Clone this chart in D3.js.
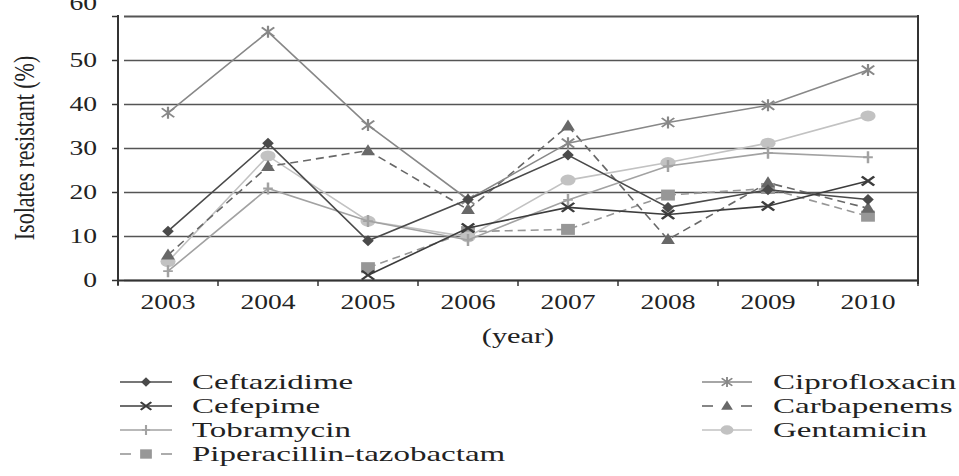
<!DOCTYPE html>
<html>
<head>
<meta charset="utf-8">
<script src="https://cdn.jsdelivr.net/npm/d3@7"></script>
<style>
  body { margin: 0; background: #fff; }
  svg text { font-family: "Liberation Serif", "Times New Roman", serif; fill: #222; }
</style>
</head>
<body>
<div id="chart"></div>
<script>
// data
const years = ["2003", "2004", "2005", "2006", "2007", "2008", "2009", "2010"];
const yTicks = [0, 10, 20, 30, 40, 50, 60];

const ceftazidime = [11.1, 31.1, 8.9, 18.3, 28.4, 16.5, 20.5, 18.3];
const cefepime = [null, null, 1.1, 11.8, 16.5, 14.9, 16.8, 22.5];
const tobramycin = [2.0, 20.8, 13.4, 9.1, 18.2, 25.9, 28.9, 27.9];
const piperacillin = [null, null, 2.8, 11.0, 11.5, 19.3, 20.8, 14.5];
const ciprofloxacin = [38.0, 56.4, 35.2, 18.3, 31.1, 35.8, 39.7, 47.7];
const carbapenems = [5.7, 25.8, 29.4, 16.0, 35.0, 9.2, 22.1, 16.3];
const gentamicin = [4.2, 28.2, 13.4, 9.8, 22.7, 26.7, 31.1, 37.3];

// the source figure is stretched sideways, so text and markers get this x scale
const SX = 1.38;
const LEGEND_SX = 1.5;

const series = [
  { name: "Ceftazidime", values: ceftazidime, color: "#4a4a4a", shape: "diamond", dashed: false, col: 0, row: 0 },
  { name: "Cefepime", values: cefepime, color: "#3c3c3c", shape: "x", dashed: false, col: 0, row: 1 },
  { name: "Tobramycin", values: tobramycin, color: "#a2a2a2", shape: "plus", dashed: false, col: 0, row: 2 },
  { name: "Piperacillin-tazobactam", values: piperacillin, color: "#979797", shape: "square", dashed: true, col: 0, row: 3 },
  { name: "Ciprofloxacin", values: ciprofloxacin, color: "#888888", shape: "star", dashed: false, col: 1, row: 0 },
  { name: "Carbapenems", values: carbapenems, color: "#686868", shape: "triangle", dashed: true, col: 1, row: 1 },
  { name: "Gentamicin", values: gentamicin, color: "#c2c2c2", shape: "circle", dashed: false, col: 1, row: 2 }
];
const drawOrder = ["Piperacillin-tazobactam", "Gentamicin", "Tobramycin", "Carbapenems", "Ciprofloxacin", "Ceftazidime", "Cefepime"];

const width = 959, height = 476;
const margin = { top: 16, right: 41, bottom: 196, left: 118 };

const svg = d3.select("#chart").append("svg")
  .attr("width", width)
  .attr("height", height);

const x = d3.scaleBand().domain(years).range([margin.left, width - margin.right]);
const y = d3.scaleLinear().domain([0, 60]).range([height - margin.bottom, margin.top]);
const cx = d => x(d) + x.bandwidth() / 2;

// gridlines
svg.append("g")
  .attr("transform", `translate(${margin.left},0)`)
  .call(d3.axisLeft(y).tickValues(yTicks).tickSize(-(width - margin.left - margin.right)).tickFormat(""))
  .call(g => g.select(".domain").remove())
  .call(g => g.selectAll("line")
    .attr("x1", 6)
    .attr("stroke", "#555")
    .attr("stroke-width", d => d === 60 ? 2 : 1.6));

// y axis
svg.append("g")
  .attr("transform", `translate(${margin.left},0)`)
  .call(d3.axisLeft(y).tickValues(yTicks).tickSize(6).tickSizeOuter(0).tickPadding(15))
  .call(g => g.select(".domain").attr("stroke", "#333").attr("stroke-width", 2)
    .attr("d", `M0,${y(60) - 1}V${y(0) + 5}`))
  .call(g => g.selectAll(".tick line").attr("stroke", "#333").attr("stroke-width", 1.5))
  .call(g => g.selectAll(".tick text")
    .attr("x", -21 / SX)
    .attr("transform", `scale(${SX},1)`)
    .attr("dy", d => d === 60 ? "-0.35em" : "0.32em")
    .style("font-size", "20px")
    .style("font-family", "Liberation Serif")
    .attr("fill", "#222"));

// right border
svg.append("line")
  .attr("x1", width - margin.right).attr("x2", width - margin.right)
  .attr("y1", y(60) - 1).attr("y2", y(0) + 4)
  .attr("stroke", "#333").attr("stroke-width", 2);

// x axis
const xAxis = svg.append("g")
  .attr("transform", `translate(0,${y(0)})`)
  .call(d3.axisBottom(x).tickSize(0).tickSizeOuter(0).tickPadding(15))
  .call(g => g.select(".domain").attr("stroke", "#333").attr("stroke-width", 2))
  .call(g => g.selectAll(".tick text")
    .attr("transform", `scale(${SX},1)`)
    .style("font-size", "20px")
    .style("font-family", "Liberation Serif")
    .attr("fill", "#222"));

xAxis.selectAll(".sep")
  .data(d3.range(years.length + 1))
  .join("line")
  .attr("class", "sep")
  .attr("x1", i => margin.left + i * x.bandwidth())
  .attr("x2", i => margin.left + i * x.bandwidth())
  .attr("y1", 0).attr("y2", 6)
  .attr("stroke", "#333").attr("stroke-width", 1.5);

// axis titles
svg.append("text")
  .attr("transform", `translate(34,148) scale(${SX},1) rotate(-90)`)
  .attr("text-anchor", "middle")
  .style("font-size", "22px")
  .text("Isolates resistant (%)");

svg.append("text")
  .attr("transform", `translate(${(margin.left + width - margin.right) / 2},343) scale(${SX},1)`)
  .attr("text-anchor", "middle")
  .style("font-size", "22px")
  .text("(year)");

function marker(sel, s) {
  sel.attr("fill", s.color).attr("stroke", s.color);
  if (s.shape === "diamond") {
    sel.append("path").attr("d", "M0,-5.5L4.2,0L0,5.5L-4.2,0Z").attr("stroke", "none");
  } else if (s.shape === "x") {
    sel.append("path").attr("d", "M-4.5,-4.5L4.5,4.5M-4.5,4.5L4.5,-4.5").attr("fill", "none").attr("stroke-width", 2);
  } else if (s.shape === "plus") {
    sel.append("path").attr("d", "M-3.5,0L3.5,0M0,-6L0,6").attr("fill", "none").attr("stroke-width", 1.8);
  } else if (s.shape === "square") {
    sel.append("rect").attr("x", -5).attr("y", -5.5).attr("width", 10).attr("height", 11).attr("stroke", "none");
  } else if (s.shape === "star") {
    sel.append("path").attr("d", "M-4.5,-4.5L4.5,4.5M-4.5,4.5L4.5,-4.5M0,-6L0,6").attr("fill", "none").attr("stroke-width", 1.6);
  } else if (s.shape === "triangle") {
    sel.append("path").attr("d", "M0,-6.5L5,4.5L-5,4.5Z").attr("stroke", "none");
  } else if (s.shape === "circle") {
    sel.append("circle").attr("r", 5.5).attr("stroke", "none");
  }
}

const line = d3.line()
  .defined(d => d.v !== null)
  .x(d => cx(d.year))
  .y(d => y(d.v));

drawOrder.forEach(name => {
  const s = series.find(d => d.name === name);
  const pts = years.map((yr, i) => ({ year: yr, v: s.values[i] }));
  const g = svg.append("g");
  g.append("path")
    .datum(pts)
    .attr("d", line)
    .attr("fill", "none")
    .attr("stroke", s.color)
    .attr("stroke-width", 1.6)
    .attr("stroke-dasharray", s.dashed ? "8,5" : null);
  g.selectAll(".m")
    .data(pts.filter(d => d.v !== null))
    .join("g")
    .attr("class", "m")
    .attr("transform", d => `translate(${cx(d.year)},${y(d.v)}) scale(${SX},1)`)
    .each(function () { marker(d3.select(this), s); });
});

// legend
const legendCols = [{ x0: 120, x1: 172, tx: 192 }, { x0: 702, x1: 752, tx: 773 }];
const legendTop = 382, legendStep = 24;

series.forEach(s => {
  const c = legendCols[s.col];
  const ly = legendTop + s.row * legendStep;
  const g = svg.append("g");
  const mid = (c.x0 + c.x1) / 2;
  if (s.dashed) {
    g.append("line").attr("x1", c.x0).attr("x2", c.x0 + 11).attr("y1", ly).attr("y2", ly)
      .attr("stroke", s.color).attr("stroke-width", 1.6);
    g.append("line").attr("x1", c.x1 - 11).attr("x2", c.x1).attr("y1", ly).attr("y2", ly)
      .attr("stroke", s.color).attr("stroke-width", 1.6);
  } else {
    g.append("line").attr("x1", c.x0).attr("x2", c.x1).attr("y1", ly).attr("y2", ly)
      .attr("stroke", s.color).attr("stroke-width", 1.6);
  }
  const m = g.append("g").attr("transform", `translate(${mid},${ly}) scale(${SX * 0.85},0.85)`);
  marker(m, s);
  g.append("text")
    .attr("transform", `translate(${c.tx},${ly + 7}) scale(${LEGEND_SX},1)`)
    .style("font-size", "22px")
    .text(s.name);
});
</script>
</body>
</html>
